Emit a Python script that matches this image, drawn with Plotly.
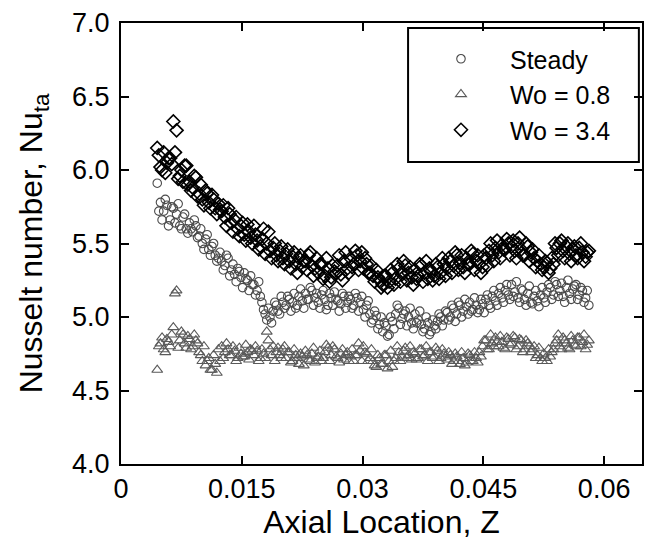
import plotly.graph_objects as go

# Axial location Z, first pass of sampling positions
Z = [
    0.0045, 0.0049, 0.0053, 0.0057, 0.0061, 0.0065, 0.0069, 0.0073, 0.0077, 0.0081,
    0.0085, 0.0089, 0.0093, 0.0097, 0.0101, 0.0105, 0.0109, 0.0113, 0.0117, 0.0121,
    0.0125, 0.0129, 0.0133, 0.0137, 0.0141, 0.0145, 0.0149, 0.0153, 0.0157, 0.0161,
    0.0165, 0.0169, 0.0173, 0.0177, 0.0181, 0.0185, 0.0189, 0.0193, 0.0197, 0.0201,
    0.0205, 0.0209, 0.0213, 0.0217, 0.0221, 0.0225, 0.0229, 0.0233, 0.0237, 0.0241,
    0.0245, 0.0249, 0.0253, 0.0257, 0.0261, 0.0265, 0.0269, 0.0273, 0.0277, 0.0281,
    0.0285, 0.0289, 0.0293, 0.0297, 0.0301, 0.0305, 0.0309, 0.0313, 0.0317, 0.0321,
    0.0325, 0.0329, 0.0333, 0.0337, 0.0341, 0.0345, 0.0349, 0.0353, 0.0357, 0.0361,
    0.0365, 0.0369, 0.0373, 0.0377, 0.0381, 0.0385, 0.0389, 0.0393, 0.0397, 0.0401,
    0.0405, 0.0409, 0.0413, 0.0417, 0.0421, 0.0425, 0.0429, 0.0433, 0.0437, 0.0441,
    0.0445, 0.0449, 0.0453, 0.0457, 0.0461, 0.0465, 0.0469, 0.0473, 0.0477, 0.0481,
    0.0485, 0.0489, 0.0493, 0.0497, 0.0501, 0.0505, 0.0509, 0.0513, 0.0517, 0.0521,
    0.0525, 0.0529, 0.0533, 0.0537, 0.0541, 0.0545, 0.0549, 0.0553, 0.0557, 0.0561,
    0.0565, 0.0569, 0.0573, 0.0577, 0.0581,
]
# Second pass of sampling positions (interleaved)
Z2 = [
    0.0047, 0.0051, 0.0055, 0.0059, 0.0063, 0.0067, 0.0071, 0.0075, 0.0079, 0.0083,
    0.0087, 0.0091, 0.0095, 0.0099, 0.0103, 0.0107, 0.0111, 0.0115, 0.0119, 0.0123,
    0.0127, 0.0131, 0.0135, 0.0139, 0.0143, 0.0147, 0.0151, 0.0155, 0.0159, 0.0163,
    0.0167, 0.0171, 0.0175, 0.0179, 0.0183, 0.0187, 0.0191, 0.0195, 0.0199, 0.0203,
    0.0207, 0.0211, 0.0215, 0.0219, 0.0223, 0.0227, 0.0231, 0.0235, 0.0239, 0.0243,
    0.0247, 0.0251, 0.0255, 0.0259, 0.0263, 0.0267, 0.0271, 0.0275, 0.0279, 0.0283,
    0.0287, 0.0291, 0.0295, 0.0299, 0.0303, 0.0307, 0.0311, 0.0315, 0.0319, 0.0323,
    0.0327, 0.0331, 0.0335, 0.0339, 0.0343, 0.0347, 0.0351, 0.0355, 0.0359, 0.0363,
    0.0367, 0.0371, 0.0375, 0.0379, 0.0383, 0.0387, 0.0391, 0.0395, 0.0399, 0.0403,
    0.0407, 0.0411, 0.0415, 0.0419, 0.0423, 0.0427, 0.0431, 0.0435, 0.0439, 0.0443,
    0.0447, 0.0451, 0.0455, 0.0459, 0.0463, 0.0467, 0.0471, 0.0475, 0.0479, 0.0483,
    0.0487, 0.0491, 0.0495, 0.0499, 0.0503, 0.0507, 0.0511, 0.0515, 0.0519, 0.0523,
    0.0527, 0.0531, 0.0535, 0.0539, 0.0543, 0.0547, 0.0551, 0.0555, 0.0559, 0.0563,
    0.0567, 0.0571, 0.0575, 0.0579,
]

steady = [
    5.91, 5.78, 5.72, 5.76, 5.66, 5.74, 5.70, 5.62, 5.68, 5.60,
    5.64, 5.58, 5.62, 5.55, 5.50, 5.53, 5.46, 5.48, 5.42, 5.40,
    5.38, 5.35, 5.40, 5.32, 5.29, 5.33, 5.27, 5.30, 5.25, 5.28,
    5.22, 5.18, 5.14, 5.05, 4.98, 5.00, 5.04, 5.08, 5.02, 5.10,
    5.08, 5.12, 5.10, 5.06, 5.14, 5.11, 5.16, 5.12, 5.18, 5.13,
    5.10, 5.15, 5.12, 5.08, 5.13, 5.17, 5.11, 5.09, 5.14, 5.10,
    5.12, 5.08, 5.13, 5.10, 5.05, 5.08, 5.02, 4.98, 5.01, 4.95,
    4.90, 4.94, 4.88, 4.97, 5.02, 5.06, 4.99, 5.04, 5.00, 4.96,
    5.02, 4.98, 4.95, 4.92, 4.96, 4.90, 4.94, 4.97, 5.00, 4.98,
    5.03, 5.00, 5.06, 5.02, 5.08, 5.04, 5.07, 5.10, 5.05, 5.08,
    5.05, 5.09, 5.12, 5.08, 5.14, 5.11, 5.16, 5.13, 5.18, 5.15,
    5.22, 5.17, 5.13, 5.19, 5.12, 5.16, 5.10, 5.14, 5.11, 5.15,
    5.13, 5.17, 5.20, 5.15, 5.22, 5.18, 5.14, 5.20, 5.16, 5.19,
    5.22, 5.15, 5.18, 5.13, 5.08,
]
steady2 = [
    5.72, 5.66, 5.80, 5.62, 5.75, 5.64, 5.77, 5.60, 5.70, 5.57,
    5.60, 5.66, 5.54, 5.60, 5.46, 5.56, 5.42, 5.50, 5.38, 5.44,
    5.32, 5.42, 5.28, 5.36, 5.24, 5.31, 5.20, 5.26, 5.18, 5.22,
    5.15, 5.24, 5.10, 5.02, 5.06, 4.96, 5.10, 5.04, 5.14, 5.06,
    5.14, 5.04, 5.16, 5.08, 5.19, 5.06, 5.12, 5.20, 5.08, 5.16,
    5.06, 5.18, 5.05, 5.16, 5.08, 5.12, 5.04, 5.16, 5.06, 5.14,
    5.06, 5.16, 5.04, 5.14, 5.00, 5.11, 4.96, 5.04, 4.92, 5.00,
    4.96, 4.87, 5.00, 4.92, 5.08, 4.95, 5.02, 4.94, 5.06, 4.92,
    4.96, 5.04, 4.90, 5.00, 4.88, 4.98, 4.92, 5.02, 4.94, 5.04,
    4.98, 5.08, 4.97, 5.10, 5.00, 5.12, 5.02, 5.04, 5.13, 5.03,
    5.12, 5.03, 5.15, 5.06, 5.18, 5.08, 5.20, 5.10, 5.22, 5.12,
    5.14, 5.24, 5.10, 5.18, 5.08, 5.21, 5.09, 5.18, 5.07, 5.20,
    5.10, 5.22, 5.12, 5.24, 5.14, 5.23, 5.10, 5.25, 5.12, 5.21,
    5.12, 5.20, 5.10, 5.18,
]

wo08 = [
    4.64, 4.82, 4.78, 4.85, 4.80, 4.93, 5.18, 4.84, 4.88, 4.79,
    4.85, 4.80, 4.84, 4.76, 4.70, 4.67, 4.72, 4.64, 4.68, 4.78,
    4.80, 4.76, 4.78, 4.74, 4.77, 4.72, 4.75, 4.73, 4.76, 4.78,
    4.74, 4.77, 4.72, 4.75, 4.90, 4.78, 4.80, 4.76, 4.74, 4.78,
    4.72, 4.76, 4.70, 4.74, 4.68, 4.73, 4.77, 4.71, 4.75, 4.69,
    4.73, 4.70, 4.76, 4.79, 4.74, 4.78, 4.72, 4.75, 4.71, 4.76,
    4.73, 4.70, 4.74, 4.77, 4.80, 4.75, 4.72, 4.70, 4.66, 4.72,
    4.68, 4.74, 4.70, 4.66, 4.72, 4.76, 4.73, 4.79, 4.74, 4.71,
    4.75, 4.72, 4.78, 4.74, 4.70, 4.76, 4.73, 4.77, 4.72, 4.75,
    4.71, 4.74, 4.70, 4.73, 4.68, 4.72, 4.69, 4.74, 4.70, 4.72,
    4.76, 4.80, 4.84, 4.78, 4.82, 4.86, 4.80, 4.83, 4.78, 4.85,
    4.82, 4.86, 4.80, 4.84, 4.78, 4.82, 4.76, 4.80, 4.74, 4.72,
    4.75, 4.70, 4.73, 4.78, 4.84, 4.80, 4.86, 4.82, 4.78, 4.84,
    4.80, 4.86, 4.83, 4.78, 4.84,
]
wo08_2 = [
    4.80, 4.86, 4.76, 4.83, 4.88, 5.16, 4.79, 4.90, 4.82, 4.87,
    4.78, 4.88, 4.82, 4.74, 4.80, 4.70, 4.64, 4.74, 4.62, 4.70,
    4.72, 4.82, 4.74, 4.80, 4.70, 4.79, 4.73, 4.81, 4.71, 4.77,
    4.80, 4.70, 4.78, 4.72, 4.84, 4.74, 4.70, 4.79, 4.72, 4.80,
    4.76, 4.69, 4.78, 4.72, 4.75, 4.67, 4.74, 4.70, 4.79, 4.72,
    4.77, 4.72, 4.81, 4.70, 4.80, 4.73, 4.69, 4.78, 4.74, 4.70,
    4.78, 4.74, 4.82, 4.70, 4.76, 4.70, 4.78, 4.67, 4.74, 4.68,
    4.74, 4.65, 4.77, 4.70, 4.80, 4.70, 4.77, 4.72, 4.80, 4.76,
    4.71, 4.78, 4.73, 4.80, 4.76, 4.72, 4.79, 4.70, 4.78, 4.73,
    4.76, 4.68, 4.75, 4.70, 4.76, 4.67, 4.75, 4.70, 4.76, 4.69,
    4.73, 4.84, 4.78, 4.88, 4.80, 4.83, 4.87, 4.79, 4.86, 4.81,
    4.87, 4.78, 4.85, 4.76, 4.84, 4.80, 4.78, 4.72, 4.79, 4.70,
    4.72, 4.78, 4.76, 4.82, 4.88, 4.78, 4.84, 4.79, 4.87, 4.81,
    4.86, 4.80, 4.88, 4.81,
]

wo34 = [
    6.15, 6.02, 6.12, 6.05, 6.08, 6.33, 6.27, 5.96, 5.92, 6.03,
    5.92, 5.88, 5.95, 5.84, 5.80, 5.86, 5.78, 5.83, 5.74, 5.77,
    5.72, 5.68, 5.74, 5.64, 5.66, 5.60, 5.62, 5.56, 5.63, 5.54,
    5.62, 5.52, 5.48, 5.60, 5.50, 5.45, 5.47, 5.42, 5.45, 5.40,
    5.43, 5.38, 5.41, 5.36, 5.40, 5.34, 5.38, 5.42, 5.35, 5.33,
    5.30, 5.36, 5.28, 5.33, 5.27, 5.31, 5.35, 5.29, 5.38, 5.33,
    5.40, 5.36, 5.42, 5.38, 5.33, 5.36, 5.30, 5.28, 5.32, 5.25,
    5.22, 5.28, 5.24, 5.30, 5.26, 5.33, 5.29, 5.35, 5.30, 5.27,
    5.32, 5.28, 5.35, 5.30, 5.26, 5.31, 5.28, 5.34, 5.30, 5.36,
    5.33, 5.38, 5.35, 5.42, 5.37, 5.34, 5.40, 5.36, 5.43, 5.38,
    5.36, 5.34, 5.40, 5.45, 5.42, 5.47, 5.44, 5.49, 5.46, 5.50,
    5.48, 5.45, 5.50, 5.46, 5.42, 5.48, 5.44, 5.40, 5.38, 5.36,
    5.34, 5.37, 5.33, 5.36, 5.47, 5.50, 5.45, 5.48, 5.43, 5.46,
    5.42, 5.47, 5.44, 5.41, 5.45,
]
wo34_2 = [
    6.10, 6.00, 5.98, 6.08, 6.04, 6.12, 5.94, 6.00, 6.03, 5.90,
    5.86, 5.96, 5.82, 5.90, 5.76, 5.84, 5.74, 5.80, 5.70, 5.73,
    5.76, 5.62, 5.70, 5.58, 5.68, 5.55, 5.64, 5.52, 5.58, 5.50,
    5.56, 5.46, 5.53, 5.43, 5.58, 5.40, 5.50, 5.38, 5.48, 5.36,
    5.46, 5.33, 5.44, 5.30, 5.42, 5.38, 5.32, 5.44, 5.28, 5.40,
    5.36, 5.26, 5.40, 5.24, 5.35, 5.30, 5.42, 5.25, 5.44, 5.30,
    5.34, 5.45, 5.32, 5.44, 5.40, 5.30, 5.35, 5.24, 5.27, 5.20,
    5.28, 5.20, 5.32, 5.22, 5.36, 5.24, 5.38, 5.25, 5.34, 5.22,
    5.26, 5.36, 5.24, 5.38, 5.33, 5.25, 5.36, 5.26, 5.40, 5.28,
    5.40, 5.30, 5.44, 5.32, 5.42, 5.30, 5.36, 5.45, 5.32, 5.42,
    5.30, 5.42, 5.35, 5.50, 5.38, 5.52, 5.40, 5.46, 5.53, 5.42,
    5.52, 5.40, 5.54, 5.42, 5.50, 5.38, 5.46, 5.34, 5.42, 5.32,
    5.38, 5.30, 5.40, 5.50, 5.42, 5.52, 5.40, 5.50, 5.38, 5.48,
    5.40, 5.50, 5.38, 5.44,
]

x_ticks = [0, 0.015, 0.03, 0.045, 0.06]
x_ticklabels = ["0", "0.015", "0.03", "0.045", "0.06"]
y_ticks = [4.0, 4.5, 5.0, 5.5, 6.0, 6.5, 7.0]

FONT = "Liberation Sans, Arial, sans-serif"

fig = go.Figure()
fig.add_trace(go.Scatter(
    x=Z + Z2, y=steady + steady2, mode="markers", name="Steady",
    marker=dict(symbol="circle-open", size=8.5, color="#4a4a4a", line=dict(width=1.1, color="#4a4a4a")),
))
fig.add_trace(go.Scatter(
    x=Z + Z2, y=wo08 + wo08_2, mode="markers", name="Wo = 0.8",
    marker=dict(symbol="triangle-up-open", size=9.5, color="#5a5a5a", line=dict(width=1.1, color="#5a5a5a")),
))
fig.add_trace(go.Scatter(
    x=Z + Z2, y=wo34 + wo34_2, mode="markers", name="Wo = 3.4",
    marker=dict(symbol="diamond-open", size=10, color="#000000", line=dict(width=1.6, color="#000000")),
))

axis_common = dict(
    showline=True, linecolor="black", linewidth=2, mirror="ticks",
    ticks="inside", ticklen=8, tickwidth=2, tickcolor="black",
    showgrid=False, zeroline=False, automargin=False,
    tickfont=dict(family=FONT, size=27, color="black"),
)

fig.update_xaxes(
    range=[0, 0.0647], tickvals=x_ticks, ticktext=x_ticklabels,
    title=dict(text="Axial Location, Z", font=dict(family=FONT, size=32, color="black"), standoff=6),
    **axis_common,
)
fig.update_yaxes(
    range=[4.0, 7.0], tickvals=y_ticks, tickformat=".1f",
    title=dict(text="Nusselt number, Nu<sub>ta</sub>", font=dict(family=FONT, size=32, color="black"), standoff=20),
    ticklabelstandoff=4,
    **axis_common,
)

fig.add_shape(type="rect", xref="paper", yref="paper",
              x0=0.551, x1=0.994, y0=0.685, y1=0.9887,
              line=dict(color="black", width=2), fillcolor="rgba(0,0,0,0)")

# The page body adds an 8px offset, so the figure is 8px smaller on each axis
fig.update_layout(
    width=644, height=542,
    margin=dict(l=113, r=10, t=15, b=86),
    paper_bgcolor="white", plot_bgcolor="white",
    font=dict(family=FONT, color="black"),
    legend=dict(
        x=0.5585, y=0.9705, xanchor="left", yanchor="top",
        bgcolor="rgba(0,0,0,0)", borderwidth=0,
        itemwidth=88,
        font=dict(family=FONT, size=25, color="black"),
        tracegroupgap=0,
    ),
)

fig.write_html("out.html")
